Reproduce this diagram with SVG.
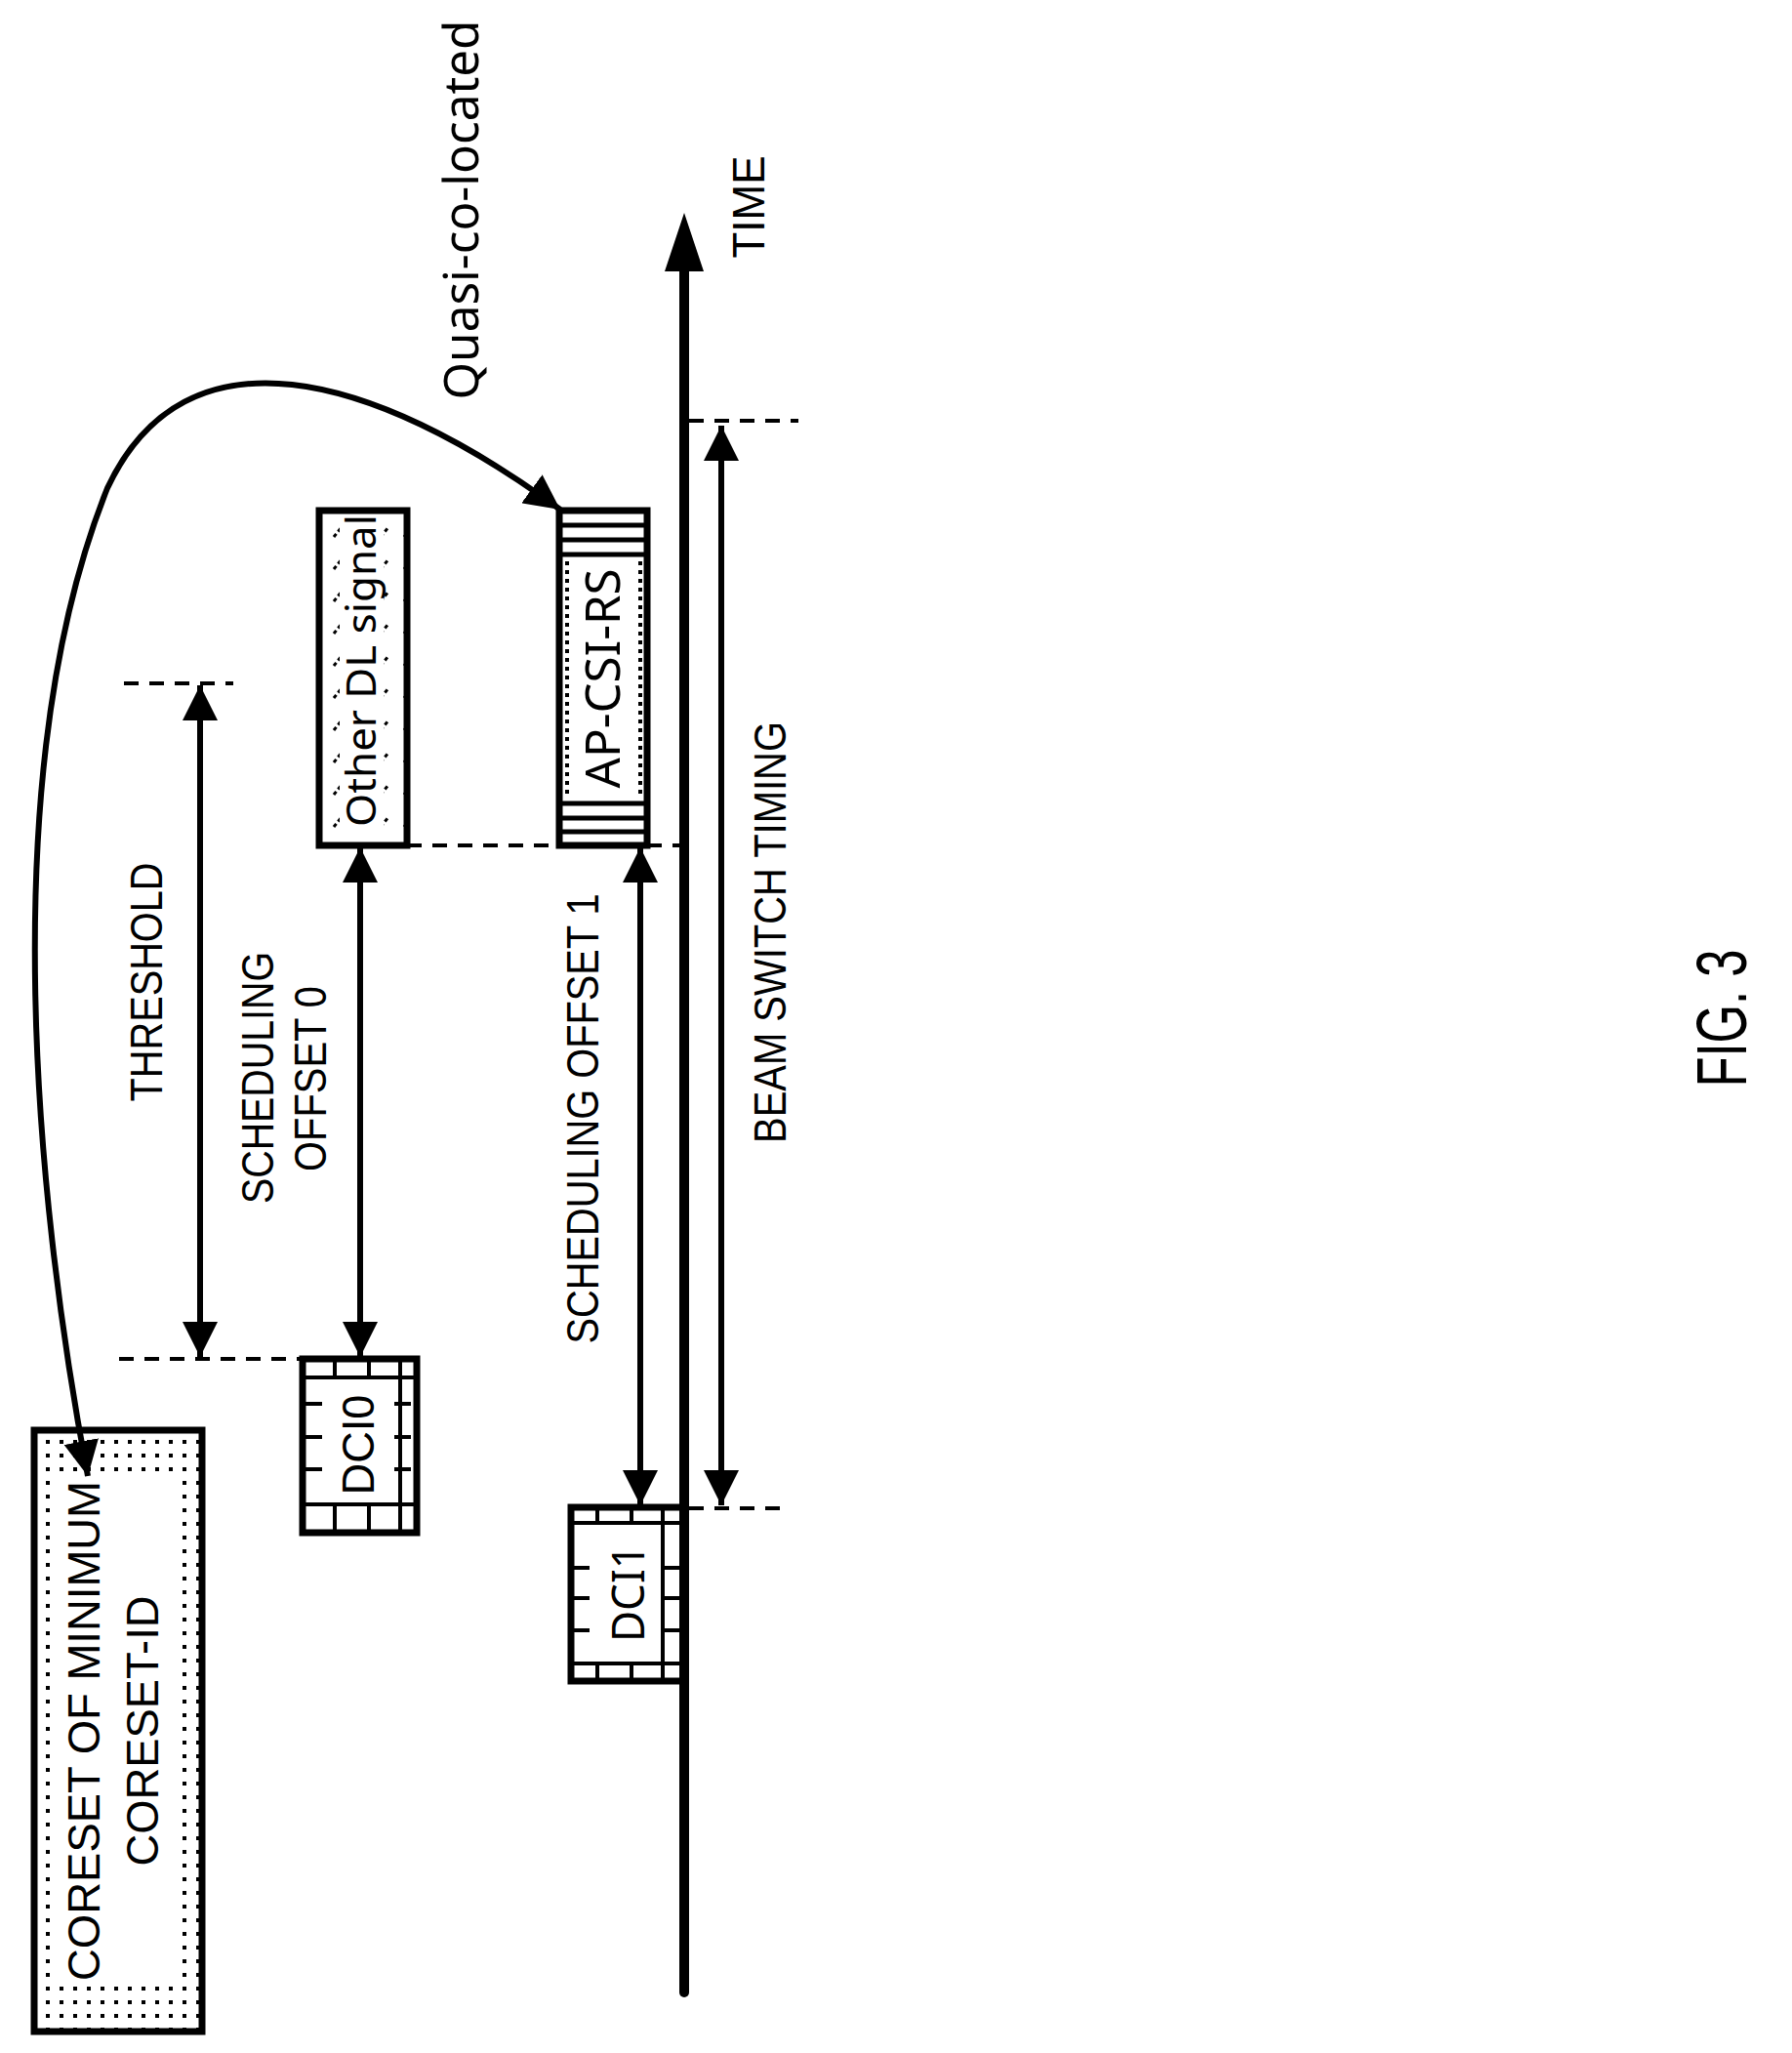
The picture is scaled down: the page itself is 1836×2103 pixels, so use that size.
<svg xmlns="http://www.w3.org/2000/svg" width="1836" height="2103" viewBox="0 0 1836 2103">
<style>
.box{fill:none;stroke:#000;stroke-width:7}
.arr{fill:none;stroke:#000;stroke-width:6}
.dash{fill:none;stroke:#000;stroke-width:4;stroke-dasharray:15 11}
.thin{stroke:#000;stroke-width:4;fill:none}
.lbl{font-family:"Liberation Sans",Arial,sans-serif;font-size:46px;fill:#000}
.nl{font-family:"Noto Sans","Open Sans",sans-serif;fill:#000}
</style>
<defs>
<marker id="ah" viewBox="0 0 10 10" refX="10" refY="5" markerWidth="6" markerHeight="6" markerUnits="strokeWidth" orient="auto-start-reverse"><path d="M0,0 L10,5 L0,10 z" fill="#000"/></marker>
<marker id="ahc" viewBox="0 0 10 10" refX="10" refY="5" markerWidth="6" markerHeight="6" markerUnits="strokeWidth" orient="auto"><path d="M0,0 L10,5 L0,10 z" fill="#000"/></marker>
<pattern id="dots" width="14" height="14" patternUnits="userSpaceOnUse"><rect x="5" y="5" width="4" height="4" fill="#000"/></pattern>
<pattern id="hatch" width="24" height="33" patternUnits="userSpaceOnUse"><line x1="6" y1="22" x2="14" y2="12" stroke="#000" stroke-width="3" stroke-dasharray="4 3"/></pattern>
</defs>

<g id="coreset">
<rect x="35" y="1465" width="172" height="616" fill="url(#dots)"/>
<rect x="52" y="1515" width="125" height="515" fill="#fff"/>
<rect x="35" y="1465" width="172" height="616" class="box"/>
<text class="lbl" transform="translate(86,1773) rotate(-90)" text-anchor="middle" dy="16" textLength="512" lengthAdjust="spacingAndGlyphs">CORESET OF MINIMUM</text>
<text class="lbl" transform="translate(146,1773) rotate(-90)" text-anchor="middle" dy="16" textLength="277" lengthAdjust="spacingAndGlyphs">CORESET-ID</text>
</g>

<g id="dci0">
<rect x="310" y="1392" width="117" height="178" class="box"/>
<path class="thin" d="M310,1411 H427 M310,1541 H427 M343,1392 V1411 M378,1392 V1411 M343,1541 V1570 M378,1541 V1570 M410,1392 V1570 M310,1438 H330 M310,1472 H330 M310,1505 H330 M404,1438 H421 M404,1472 H421 M404,1505 H421"/>
<text class="lbl" transform="translate(367,1480) rotate(-90)" text-anchor="middle" dy="16" textLength="103" lengthAdjust="spacingAndGlyphs">DCI0</text>
</g>

<g id="dci1">
<rect x="585" y="1544" width="116" height="178" class="box"/>
<path class="thin" d="M585,1560 H701 M585,1704 H701 M612,1544 V1560 M647,1544 V1560 M612,1704 V1722 M647,1704 V1722 M679,1544 V1722 M585,1606 H604 M585,1637 H604 M585,1670 H604 M679,1606 H701 M679,1637 H701 M679,1670 H701"/>
<text class="nl" font-size="46" transform="translate(644,1632) rotate(-90)" text-anchor="middle" dy="16" textLength="100" lengthAdjust="spacingAndGlyphs">DCI1</text>
</g>

<g id="otherdl">
<rect x="327" y="523" width="90" height="343" fill="url(#hatch)"/>
<rect x="348" y="528" width="45" height="333" fill="#fff"/>
<rect x="327" y="523" width="90" height="343" class="box"/>
<text class="nl" font-size="42" transform="translate(370,687) rotate(-90)" text-anchor="middle" dy="15" textLength="320" lengthAdjust="spacingAndGlyphs">Other DL signal</text>
</g>

<g id="apcsirs">
<path stroke="#000" stroke-width="5" d="M576,538 H660 M576,553 H660 M576,568 H660 M576,823 H660 M576,838 H660 M576,852 H660"/>
<path stroke="#000" stroke-width="4" stroke-dasharray="4 5" d="M581,575 V818 M656,575 V818"/>
<rect x="573" y="523" width="90" height="343" class="box"/>
<text class="nl" font-size="50" transform="translate(617,695) rotate(-90)" text-anchor="middle" dy="18" textLength="225" lengthAdjust="spacingAndGlyphs">AP-CSI-RS</text>
</g>

<g id="connectors">
<line x1="701" y1="2041" x2="701" y2="270" stroke="#000" stroke-width="10" stroke-linecap="round"/>
<path d="M681,278 L701,218 L721,278 z" fill="#000"/>
<path class="dash" d="M122,1392 H310 M127,700 H239 M417,866 H573 M663,866 H701 M706,431 H818 M706,1545 H806"/>
<line class="arr" x1="205" y1="702" x2="205" y2="1390" marker-start="url(#ah)" marker-end="url(#ah)"/>
<line class="arr" x1="369" y1="868" x2="369" y2="1390" marker-start="url(#ah)" marker-end="url(#ah)"/>
<line class="arr" x1="656" y1="868" x2="656" y2="1542" marker-start="url(#ah)" marker-end="url(#ah)"/>
<line class="arr" x1="739" y1="436" x2="739" y2="1542" marker-start="url(#ah)" marker-end="url(#ah)"/>
<path class="arr" d="M574,522 C380,380 190,330 110,500 C-10,800 40,1250 90,1512" marker-start="url(#ah)" marker-end="url(#ahc)"/>
</g>

<g id="labels">
<text class="lbl" transform="translate(150,1006) rotate(-90)" text-anchor="middle" dy="16" textLength="245" lengthAdjust="spacingAndGlyphs">THRESHOLD</text>
<text class="lbl" transform="translate(264,1104) rotate(-90)" text-anchor="middle" dy="16" textLength="258" lengthAdjust="spacingAndGlyphs">SCHEDULING</text>
<text class="lbl" transform="translate(318,1105) rotate(-90)" text-anchor="middle" dy="16" textLength="190" lengthAdjust="spacingAndGlyphs">OFFSET 0</text>
<text class="lbl" transform="translate(597,1146) rotate(-90)" text-anchor="middle" dy="16" textLength="461" lengthAdjust="spacingAndGlyphs">SCHEDULING OFFSET 1</text>
<text class="lbl" transform="translate(789,955) rotate(-90)" text-anchor="middle" dy="16" textLength="432" lengthAdjust="spacingAndGlyphs">BEAM SWITCH TIMING</text>
<text class="lbl" transform="translate(767,212) rotate(-90)" text-anchor="middle" dy="16" textLength="105" lengthAdjust="spacingAndGlyphs">TIME</text>
<text class="nl" font-size="50" transform="translate(472,215) rotate(-90)" text-anchor="middle" dy="18" textLength="389" lengthAdjust="spacingAndGlyphs">Quasi-co-located</text>
<text class="lbl" font-size="72" style="font-size:72px" transform="translate(1789,1043) rotate(-90)" text-anchor="middle" dy="0" textLength="141" lengthAdjust="spacingAndGlyphs">FIG. 3</text>
</g>
</svg>
